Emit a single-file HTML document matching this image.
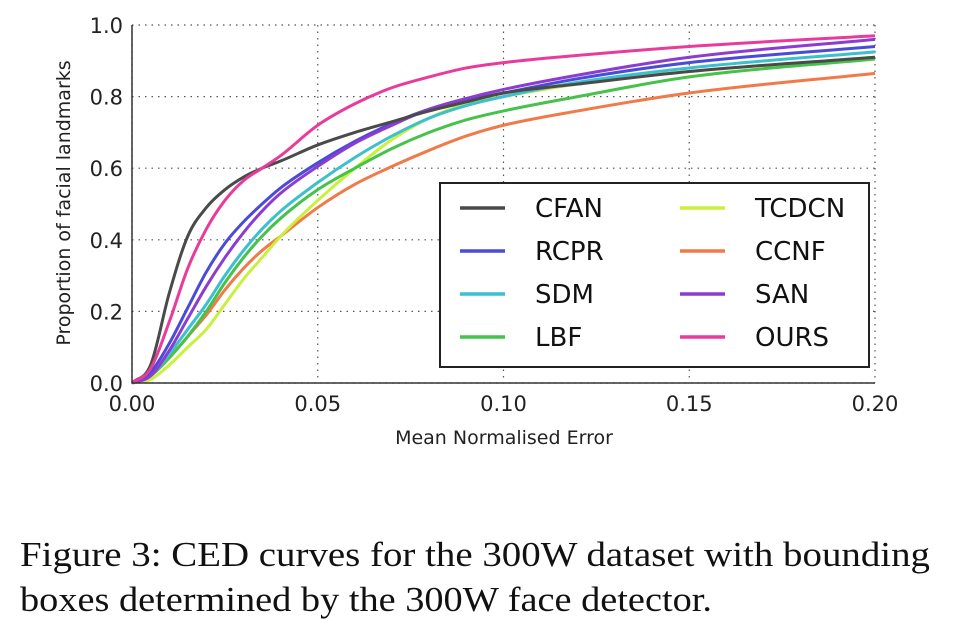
<!DOCTYPE html>
<html><head><meta charset="utf-8">
<style>
html,body{margin:0;padding:0;background:#fff;width:966px;height:633px;overflow:hidden}
svg{display:block}
.tick{font-family:"DejaVu Sans","Liberation Sans",sans-serif;font-size:21px;fill:#222}
.lab{font-family:"DejaVu Sans","Liberation Sans",sans-serif;font-size:19px;fill:#222}
.leg{font-family:"DejaVu Sans","Liberation Sans",sans-serif;font-size:26px;fill:#111}
.cap{font-family:"Liberation Serif",serif;font-size:35px;fill:#111}
</style></head>
<body>
<svg id="chart" width="966" height="633" viewBox="0 0 966 633" xmlns="http://www.w3.org/2000/svg">
<g id="grid"></g>
<g id="series"></g>
<g id="axes"></g>
<g id="legend"></g>
<text class="lab" x="504" y="444" text-anchor="middle">Mean Normalised Error</text>
<text class="lab" transform="translate(70,203) rotate(-90)" text-anchor="middle">Proportion of facial landmarks</text>
<text class="cap" x="20" y="566" textLength="910" lengthAdjust="spacingAndGlyphs">Figure 3: CED curves for the 300W dataset with bounding</text>
<text class="cap" x="20" y="611" textLength="692" lengthAdjust="spacingAndGlyphs">boxes determined by the 300W face detector.</text>
</svg>
<script>
const xs = [0, 0.005, 0.01, 0.015, 0.02, 0.025, 0.03, 0.035, 0.04, 0.05, 0.06, 0.07, 0.08, 0.09, 0.10, 0.12, 0.15, 0.20];
const seriesNames = ["CFAN","RCPR","SDM","LBF","TCDCN","CCNF","SAN","OURS"];
const seriesColors = ["#4a4a4a","#4b4bd8","#3cc0d0","#46c24a","#c8f03c","#f07a48","#8c3cd0","#e83c9c"];
const cfan  = [0, 0.05, 0.25, 0.41, 0.49, 0.54, 0.575, 0.60, 0.62, 0.665, 0.70, 0.73, 0.76, 0.785, 0.81, 0.835, 0.87, 0.91];
const rcpr  = [0, 0.03, 0.11, 0.21, 0.31, 0.39, 0.45, 0.50, 0.545, 0.615, 0.675, 0.725, 0.765, 0.79, 0.81, 0.85, 0.895, 0.94];
const sdm   = [0, 0.02, 0.08, 0.15, 0.22, 0.30, 0.37, 0.43, 0.48, 0.56, 0.63, 0.69, 0.74, 0.775, 0.80, 0.84, 0.88, 0.925];
const lbf   = [0, 0.02, 0.07, 0.13, 0.20, 0.28, 0.35, 0.41, 0.46, 0.54, 0.60, 0.655, 0.70, 0.735, 0.76, 0.80, 0.855, 0.905];
const tcdcn = [0, 0.01, 0.05, 0.10, 0.15, 0.22, 0.29, 0.35, 0.41, 0.51, 0.60, 0.68, 0.74, 0.78, 0.80, 0.835, 0.87, 0.91];
const ccnf  = [0, 0.02, 0.07, 0.13, 0.19, 0.26, 0.32, 0.37, 0.41, 0.49, 0.555, 0.605, 0.65, 0.69, 0.72, 0.76, 0.81, 0.865];
const san   = [0, 0.02, 0.09, 0.18, 0.27, 0.35, 0.42, 0.48, 0.53, 0.605, 0.67, 0.72, 0.765, 0.795, 0.82, 0.86, 0.91, 0.96];
const ours  = [0, 0.04, 0.17, 0.32, 0.43, 0.51, 0.565, 0.60, 0.635, 0.72, 0.78, 0.825, 0.855, 0.88, 0.895, 0.915, 0.94, 0.97];
const xTicks = [0, 0.05, 0.10, 0.15, 0.20];
const xTickLabels = ["0.00","0.05","0.10","0.15","0.20"];
const yTicks = [0, 0.2, 0.4, 0.6, 0.8, 1.0];
const yTickLabels = ["0.0","0.2","0.4","0.6","0.8","1.0"];

const allSeries = [cfan, rcpr, sdm, lbf, tcdcn, ccnf, san, ours];
const X0=132, X1=875, Y0=383, Y1=25;
const sx = v => X0 + (v/0.20)*(X1-X0);
const sy = v => Y0 - v*(Y0-Y1);
const NS="http://www.w3.org/2000/svg";
function mk(tag, attrs, parent){const e=document.createElementNS(NS,tag);for(const k in attrs)e.setAttribute(k,attrs[k]);parent.appendChild(e);return e;}

const grid=document.getElementById('grid');
xTicks.forEach((t,i)=>{
  const l=mk('line',{x1:sx(t),x2:sx(t),y1:Y1,y2:Y0,stroke:'#555','stroke-width':1.2,'stroke-dasharray':'1.5,5'},grid);
  
  
});
yTicks.forEach((t,i)=>{
  const l=mk('line',{x1:X0,x2:X1,y1:sy(t),y2:sy(t),stroke:'#555','stroke-width':1.2,'stroke-dasharray':'1.5,5'},grid);
  
  
});

// monotone cubic (Fritsch-Carlson) path
function pathFor(ys){
  const px=xs.map(sx), py=ys.map(sy), n=px.length;
  const d=[], m=new Array(n);
  for(let i=0;i<n-1;i++) d.push((py[i+1]-py[i])/(px[i+1]-px[i]));
  m[0]=d[0]; m[n-1]=d[n-2];
  for(let i=1;i<n-1;i++) m[i]=(d[i-1]*d[i]<=0)?0:(d[i-1]+d[i])/2;
  for(let i=0;i<n-1;i++){
    if(d[i]===0){m[i]=0;m[i+1]=0;continue;}
    const a=m[i]/d[i], b=m[i+1]/d[i], s=a*a+b*b;
    if(s>9){const t=3/Math.sqrt(s);m[i]=t*a*d[i];m[i+1]=t*b*d[i];}
  }
  let p=`M${px[0]},${py[0]}`;
  for(let i=0;i<n-1;i++){
    const h=(px[i+1]-px[i])/3;
    p+=` C${px[i]+h},${py[i]+m[i]*h} ${px[i+1]-h},${py[i+1]-m[i+1]*h} ${px[i+1]},${py[i+1]}`;
  }
  return p;
}
const sg=document.getElementById('series');
const order=[5,4,3,2,1,6,0,7];
order.forEach(i=>{
  const path=mk('path',{d:pathFor(allSeries[i]),fill:'none',stroke:seriesColors[i],'stroke-width':3,'stroke-linejoin':'round'},sg);
  
  
});

const ax=document.getElementById('axes');
const frame=mk('path',{d:`M${X0},${Y1} L${X0},${Y0} L${X1},${Y0}`,fill:'none',stroke:'#333','stroke-width':1.5},ax);


xTicks.forEach((t,i)=>{
  const tx=mk('text',{x:sx(t),y:411,'text-anchor':'middle',class:'tick'},ax);
  tx.textContent=xTickLabels[i];
  
  
});
yTicks.forEach((t,i)=>{
  const tx=mk('text',{x:123,y:sy(t)+8,'text-anchor':'end',class:'tick'},ax);
  tx.textContent=yTickLabels[i];
  
  
});

const lg=document.getElementById('legend');
const box=mk('rect',{x:440,y:183,width:429,height:184,fill:'#fff',stroke:'#222','stroke-width':2},lg);


seriesNames.forEach((n,i)=>{
  const col=Math.floor(i/4), row=i%4;
  const lx=col? 680:460, ty=208+row*43;
  const ln=mk('line',{x1:lx,x2:lx+45,y1:ty,y2:ty,stroke:seriesColors[i],'stroke-width':3.5},lg);
  
  
  const tx=mk('text',{x:lx+75,y:ty+9,class:'leg'},lg);
  tx.textContent=n;
  
  
});
</script>
</body></html>
